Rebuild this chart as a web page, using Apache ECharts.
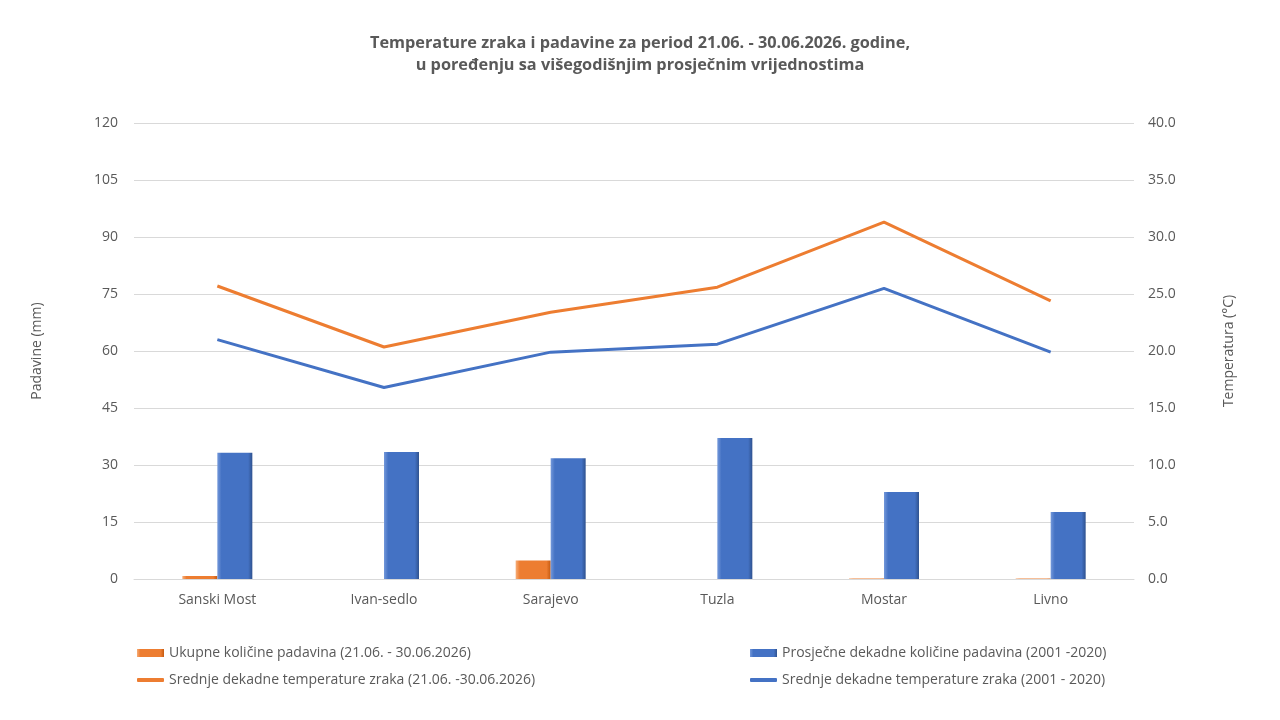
<!DOCTYPE html>
<html><head><meta charset="utf-8">
<script src="https://cdn.jsdelivr.net/npm/echarts@6/dist/echarts.min.js"></script>
<style>html,body{margin:0;padding:0;background:#fff}#c{width:1280px;height:720px}</style>
</head><body><div id="c"></div>
<script>
const categories = ['Sanski Most','Ivan-sedlo','Sarajevo','Tuzla','Mostar','Livno'];
const precipTotal = [0.8, 0, 4.9, 0, 0.1, 0.1];
const precipAvg = [33.2, 33.4, 31.8, 37.1, 22.9, 17.6];
const tempCurrent = [25.7, 20.35, 23.4, 25.6, 31.3, 24.4];
const tempAvg = [21.0, 16.8, 19.9, 20.6, 25.5, 19.9];
const names = [
  'Ukupne količine padavina (21.06. - 30.06.2026)',
  'Prosječne dekadne količine padavina (2001 -2020)',
  'Srednje dekadne temperature zraka (21.06. -30.06.2026)',
  'Srednje dekadne temperature zraka (2001 - 2020)'
];
const FONT = '"Open Sans", "Noto Sans", sans-serif';
const TXT = '#595959';
const grad = (a,b,c) => new echarts.graphic.LinearGradient(0,0,1,0,[{offset:0,color:a},{offset:0.12,color:b},{offset:0.88,color:b},{offset:1,color:c}]);
const legendText = {fontFamily:FONT,fontSize:14,color:TXT};
const mkLegend = (left, top, name, h, icon) => ({left, top, padding:0, itemWidth:27, itemHeight:h, icon, textStyle:legendText, data:[name]});
const chart = echarts.init(document.getElementById('c'));
chart.setOption({
  backgroundColor:'#fff',
  animation:false,
  title:{
    text:'Temperature zraka i padavine za period 21.06. - 30.06.2026. godine,\nu poređenju sa višegodišnjim prosječnim vrijednostima',
    left:'center', top:27,
    textStyle:{fontFamily:FONT,fontSize:16.3,fontWeight:'bold',color:TXT,lineHeight:22}
  },
  legend:[
    mkLegend(137, 646, names[0], 8, 'rect'),
    mkLegend(137, 673, names[2], 4, 'roundRect'),
    mkLegend(750, 646, names[1], 8, 'rect'),
    mkLegend(750, 673, names[3], 4, 'roundRect')
  ],
  grid:{left:134,right:146,top:123,bottom:141},
  xAxis:{type:'category',data:categories,
    axisLine:{lineStyle:{color:'#d9d9d9'}},axisTick:{show:false},
    axisLabel:{fontFamily:FONT,fontSize:14,color:TXT,margin:14}},
  yAxis:[
    {type:'value',min:0,max:120,interval:15,name:'Padavine (mm)',nameLocation:'middle',nameGap:90,
     nameTextStyle:{fontFamily:FONT,fontSize:14,color:TXT},
     axisLabel:{fontFamily:FONT,fontSize:14,color:TXT,margin:16},
     splitLine:{lineStyle:{color:'#d9d9d9'}}},
    {type:'value',min:0,max:40,interval:5,name:'Temperatura (°C)',nameLocation:'middle',nameGap:88,
     nameTextStyle:{fontFamily:FONT,fontSize:14,color:TXT},
     axisLabel:{fontFamily:FONT,fontSize:14,color:TXT,margin:14,formatter:v=>v.toFixed(1)},
     splitLine:{show:false}}
  ],
  series:[
    {name:names[0],type:'bar',yAxisIndex:0,data:precipTotal,barWidth:35,barGap:'0%',
     itemStyle:{color:grad('#f6ad78','#ed7d31','#c55a11')}},
    {name:names[1],type:'bar',yAxisIndex:0,data:precipAvg,barWidth:35,barGap:'0%',
     itemStyle:{color:grad('#7398da','#4472c4','#2f528f')}},
    {name:names[2],type:'line',yAxisIndex:1,data:tempCurrent,symbol:'none',
     lineStyle:{color:'#ed7d31',width:3},itemStyle:{color:'#ed7d31'}},
    {name:names[3],type:'line',yAxisIndex:1,data:tempAvg,symbol:'none',
     lineStyle:{color:'#4472c4',width:3},itemStyle:{color:'#4472c4'}}
  ]
});
</script></body></html>
